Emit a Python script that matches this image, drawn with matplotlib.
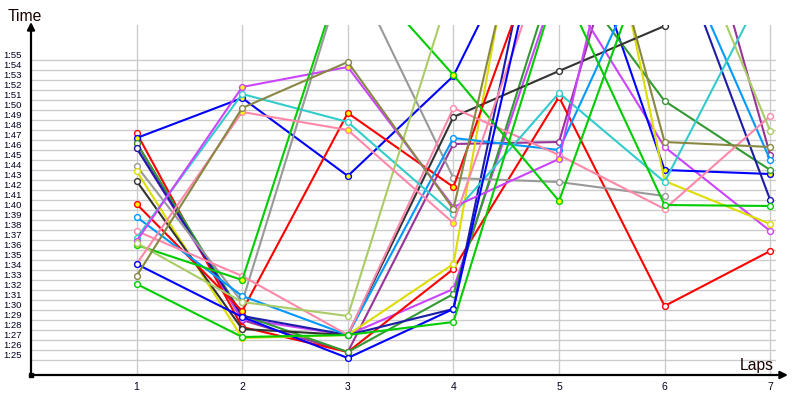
import numpy as np
import matplotlib
matplotlib.use("Agg")
import matplotlib.pyplot as plt

nan = float("nan")
laps = [1, 2, 3, 4, 5, 6, 7]
y_seconds = list(range(85, 116))
y_labels = ["1:%02d" % (s - 60) for s in y_seconds]
x_labels = ["1", "2", "3", "4", "5", "6", "7"]

# lap times in seconds, one list per driver
red_a = [107.2, 87.8, 85.3, 93.6, 110.8, 89.9, 95.4]
blue_a = [106.7, 110.7, 102.9, 112.9, 134.2, 103.5, 103.1]
dark_green = [106.2, 89.0, 85.3, 91.1, 124.5, 110.4, 103.5]
navy = [105.7, 88.9, 87.0, 89.6, 140.1, 128.7, 100.5]
gray = [103.9, 90.3, 124.5, 102.7, 102.3, 100.9, nan]
yellow = [103.4, 86.7, 87.0, 94.1, 153.0, 102.4, 98.1]
black = [102.4, 87.6, 87.0, 108.8, 113.4, 117.9, nan]
red_b = [100.1, 89.4, 109.2, 101.8, 131.0, nan, nan]
light_blue = [98.8, 90.9, 87.0, 106.7, 105.5, 128.5, 104.5]
pink_a = [97.4, 92.9, 87.0, 109.7, 105.0, 99.6, 108.9]
cyan = [96.7, 111.1, 108.3, 99.1, 111.2, 102.3, 122.8]
violet_a = [96.4, 111.8, 113.8, 99.8, 104.6, 150.1, nan]
green_a = [96.0, 92.5, 124.8, 113.0, 100.4, 129.6, nan]
light_green = [96.2, 90.3, 88.9, 122.5, 128.0, 132.9, 107.4]
pink_b = [94.1, 109.3, 107.5, 98.2, 128.5, nan, nan]
blue_b = [94.1, 88.8, 84.7, 89.6, 135.5, nan, nan]
olive = [92.9, 109.7, 114.3, 99.6, 145.5, 106.3, 105.8]
green_b = [92.1, 86.8, 87.0, 88.3, 122.6, 100.0, 99.9]
purple = [106.2, 88.5, 85.3, 106.1, 106.3, 142.5, 105.0]
violet_b = [105.7, 88.6, 87.0, 91.6, 122.8, 105.8, 97.4]

series = [
    (purple, "#993399", "white"),
    (violet_b, "#cc44ff", "white"),
    (red_a, "#ff0000", "white"),
    (blue_a, "#0000ff", "#ffff00"),
    (dark_green, "#339933", "white"),
    (navy, "#1c1ca8", "white"),
    (gray, "#999999", "white"),
    (yellow, "#dddd00", "white"),
    (black, "#333333", "white"),
    (red_b, "#ff0000", "#ffff00"),
    (light_blue, "#0099ff", "white"),
    (pink_a, "#ff88aa", "white"),
    (cyan, "#33cccc", "white"),
    (violet_a, "#cc44ff", "#ffff00"),
    (green_a, "#00cc00", "#ffff00"),
    (light_green, "#aacc66", "white"),
    (pink_b, "#ff88aa", "#ffff00"),
    (blue_b, "#0000ff", "white"),
    (olive, "#888844", "white"),
    (green_b, "#00cc00", "white"),
]

W, H = 800, 400
fig = plt.figure(figsize=(8, 4), dpi=100)
x0, x1, yb, yt = 31, 776, 375, 25
ax = fig.add_axes([x0 / W, (H - yb) / H, (x1 - x0) / W, (yb - yt) / H])
ax.set_xlim(0, (x1 - 30.3) / 105.7)
ax.set_ylim(83, 118)

for s in y_seconds:
    ax.axhline(s - 0.5, color="#cccccc", lw=1.0, zorder=0)
for l in laps:
    ax.axvline(l, color="#cccccc", lw=1.0, zorder=0)

for vals, col, face in series:
    ax.plot(laps, vals, color=col, lw=1.5, marker="o", markersize=4.2,
            markerfacecolor=face, markeredgecolor=col, markeredgewidth=1.0,
            zorder=3)

for sp in ax.spines.values():
    sp.set_visible(False)
ax.set_yticks(y_seconds)
ax.set_yticklabels(y_labels, fontsize=6.8, family="Liberation Sans", color="#000022")
ax.set_xticks(laps)
ax.set_xticklabels(x_labels, fontsize=7.5, family="Liberation Sans", color="#000022")
ax.tick_params(axis="y", length=0, pad=6.5)
ax.tick_params(axis="x", length=0, pad=5)

# axis arrows
fy = (H - yb) / H
ax.annotate("", xy=(788 / W, fy), xytext=(x0 / W, fy), xycoords="figure fraction",
            textcoords="figure fraction",
            arrowprops=dict(arrowstyle="-|>", color="black", lw=1.6, mutation_scale=11,
                            shrinkA=0, shrinkB=0))
ax.annotate("", xy=(x0 / W, (H - 22) / H), xytext=(x0 / W, fy), xycoords="figure fraction",
            textcoords="figure fraction",
            arrowprops=dict(arrowstyle="-|>", color="black", lw=1.6, mutation_scale=11,
                            shrinkA=0, shrinkB=0))
fig.patches.append(plt.Rectangle(((x0 - 2) / W, (H - yb - 2) / H), 4 / W, 4 / H,
                                 transform=fig.transFigure, color="black"))

fig.text(8 / W, (H - 21) / H, "Time", fontsize=11.3, family="Liberation Sans",
         color="#1a0000", ha="left", va="baseline")
fig.text(774 / W, (H - 370) / H, "Laps", fontsize=11.3, family="Liberation Sans",
         color="#1a0000", ha="right", va="baseline")

fig.savefig("out.png", dpi=100)
